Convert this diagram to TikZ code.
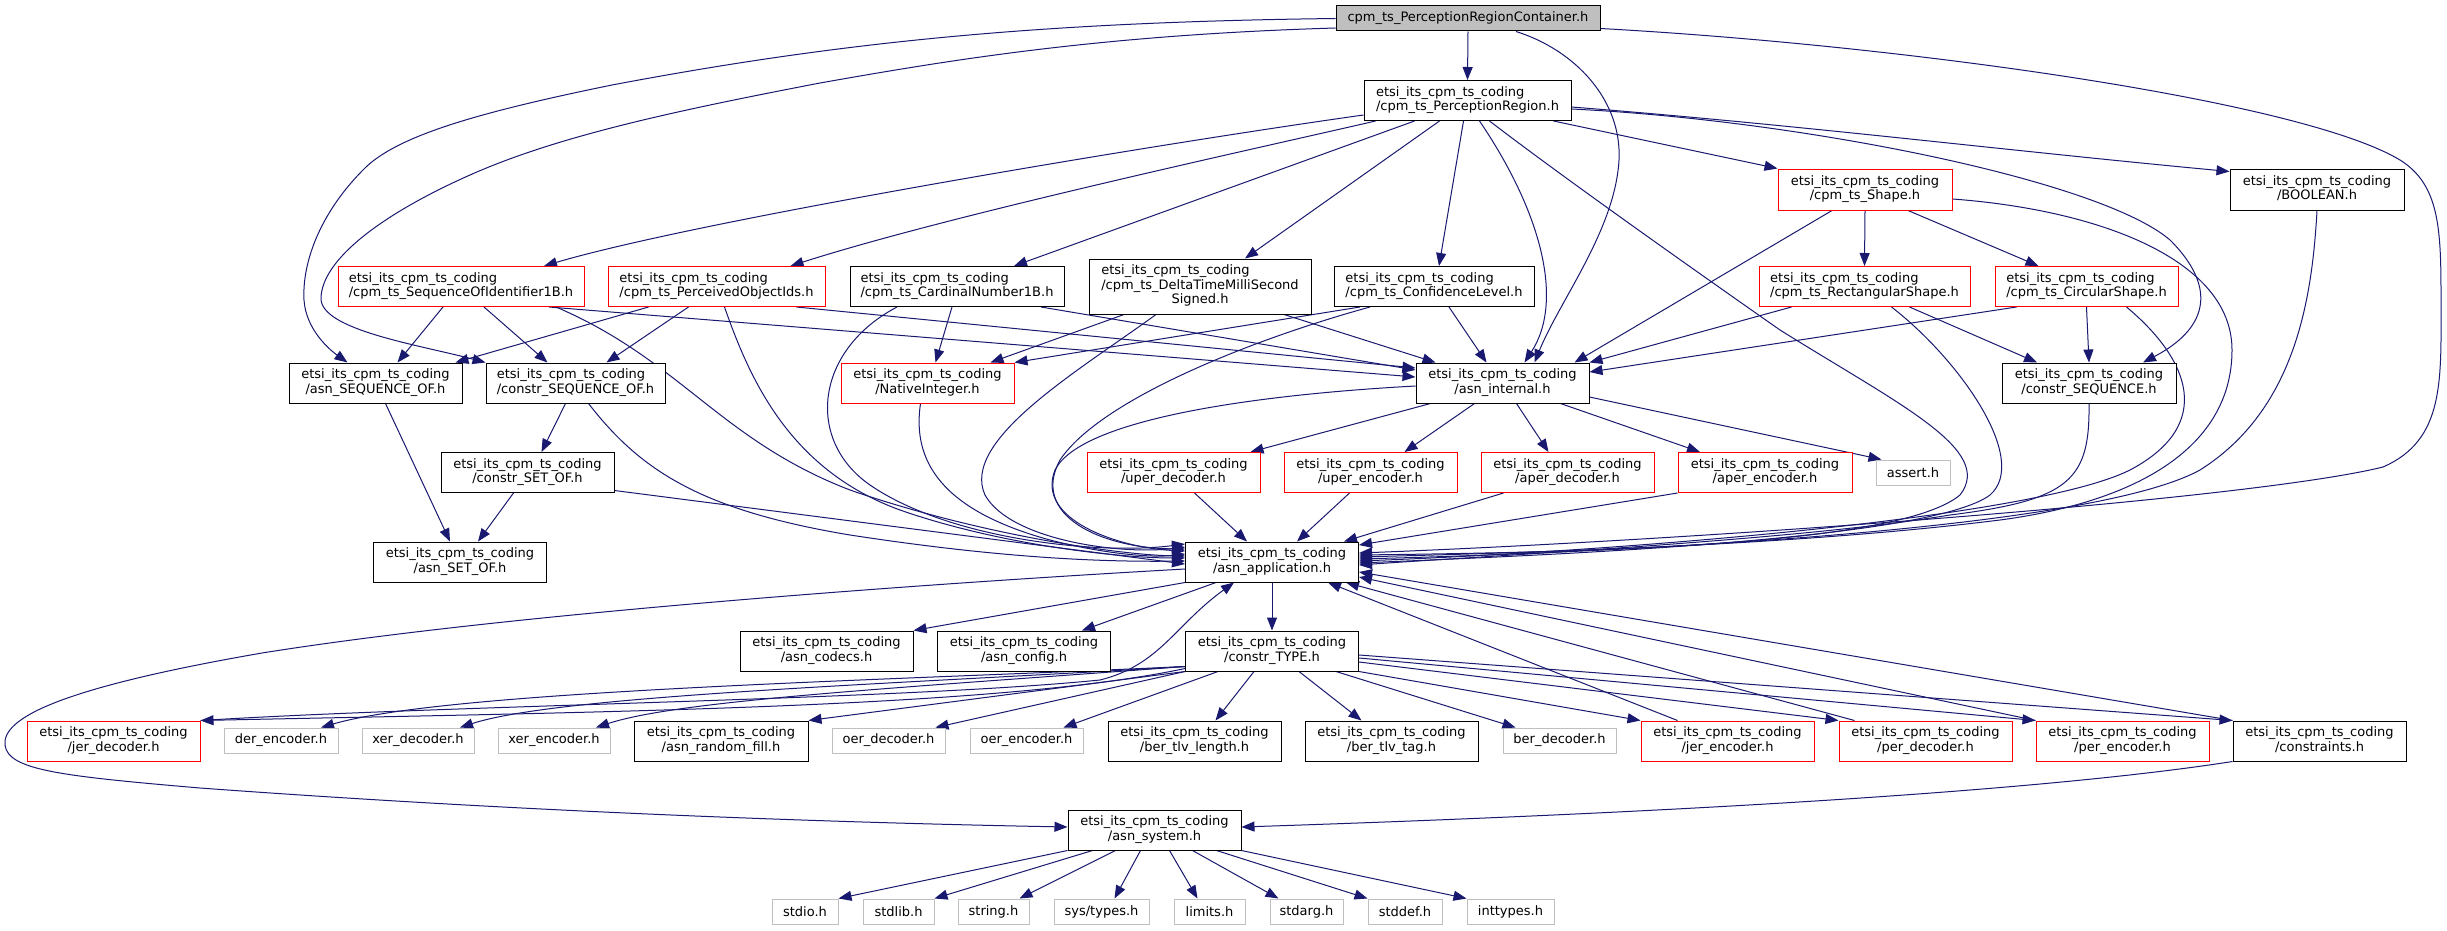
\documentclass[tikz,border=0pt]{standalone}
\usepackage{fontspec}
\setmainfont{DejaVu Sans}
\usetikzlibrary{arrows.meta}
\definecolor{edgeblue}{HTML}{191970}
\definecolor{boxgray}{HTML}{BFBFBF}
\definecolor{topfill}{HTML}{BFBFBF}
\newcommand\etsi{etsi\_its\_cpm\_ts\_coding}
\newcommand\mylbl[1]{\begin{tabular}{@{}l@{}}\etsi\\\multicolumn{1}{@{}c@{}}{#1}\end{tabular}}
\pgfdeclarelayer{bg}
\pgfsetlayers{bg,main}
\begin{document}
\begin{tikzpicture}[x=1pt,y=-1pt,
  nbox/.style={draw, rectangle, line width=1pt, fill=white, inner xsep=6pt, inner ysep=2pt,
    minimum width=173pt, minimum height=40pt, font=\fontsize{13}{14.5}\selectfont},
  redbox/.style={nbox, draw=red},
  blkbox/.style={nbox, draw=black},
  graybox/.style={nbox, draw=boxgray, minimum height=25pt},
  topbox/.style={nbox, draw=black, fill=topfill, minimum height=25pt, minimum width=264pt},
  dep/.style={draw=edgeblue, line width=1pt, -{Triangle[length=13pt,width=10pt]}}]

% nodes
\node[topbox] (top) at (1468,18.5) {cpm\_ts\_PerceptionRegionContainer.h};
\node[blkbox, minimum width=207pt] (PR) at (1467.5,100.5) {\mylbl{/cpm\_ts\_PerceptionRegion.h}};
\node[redbox, minimum width=174pt, minimum height=41pt] (Shape) at (1865,189.5) {\mylbl{/cpm\_ts\_Shape.h}};
\node[blkbox, minimum width=174pt, minimum height=41pt] (BOOLEAN) at (2317,189.5) {\mylbl{/BOOLEAN.h}};
\node[redbox, minimum width=246pt] (SeqId) at (461,286.5) {\mylbl{/cpm\_ts\_SequenceOfIdentifier1B.h}};
\node[redbox, minimum width=217pt] (POI) at (716.5,286.5) {\mylbl{/cpm\_ts\_PerceivedObjectIds.h}};
\node[blkbox, minimum width=214pt] (Card) at (957,286.5) {\mylbl{/cpm\_ts\_CardinalNumber1B.h}};
\node[blkbox, minimum width=222pt, minimum height=55pt] (Delta) at (1200,286.5)
  {\begin{tabular}{@{}l@{}}\etsi\\/cpm\_ts\_DeltaTimeMilliSecond\\\multicolumn{1}{@{}c@{}}{Signed.h}\end{tabular}};
\node[blkbox, minimum width=200pt] (Conf) at (1434,286.5) {\mylbl{/cpm\_ts\_ConfidenceLevel.h}};
\node[redbox, minimum width=211pt] (Rect) at (1864.5,286.5) {\mylbl{/cpm\_ts\_RectangularShape.h}};
\node[redbox, minimum width=183pt] (Circ) at (2086.5,286.5) {\mylbl{/cpm\_ts\_CircularShape.h}};
\node[blkbox] (asnSeqOf) at (375.5,383) {\mylbl{/asn\_SEQUENCE\_OF.h}};
\node[blkbox, minimum width=179pt] (constrSeqOf) at (575.5,383) {\mylbl{/constr\_SEQUENCE\_OF.h}};
\node[redbox] (Native) at (927.5,383) {\mylbl{/NativeInteger.h}};
\node[blkbox] (internal) at (1502.5,383) {\mylbl{/asn\_internal.h}};
\node[blkbox, minimum width=174pt] (constrSeq) at (2089,383) {\mylbl{/constr\_SEQUENCE.h}};
\node[blkbox] (constrSetOf) at (527.5,472.5) {\mylbl{/constr\_SET\_OF.h}};
\node[redbox] (uperDec) at (1173.5,472.5) {\mylbl{/uper\_decoder.h}};
\node[redbox] (uperEnc) at (1370.5,472.5) {\mylbl{/uper\_encoder.h}};
\node[redbox] (aperDec) at (1567.5,472.5) {\mylbl{/aper\_decoder.h}};
\node[redbox, minimum width=174pt] (aperEnc) at (1765,472.5) {\mylbl{/aper\_encoder.h}};
\node[graybox, minimum width=74pt] (assert) at (1913,472.5) {assert.h};
\node[blkbox] (asnSetOf) at (460,562) {\mylbl{/asn\_SET\_OF.h}};
\node[blkbox] (app) at (1272,562) {\mylbl{/asn\_application.h}};
\node[blkbox] (codecs) at (826.5,651) {\mylbl{/asn\_codecs.h}};
\node[blkbox] (config) at (1024,651) {\mylbl{/asn\_config.h}};
\node[blkbox] (ctype) at (1272,651) {\mylbl{/constr\_TYPE.h}};
\node[redbox] (jerDec) at (113.5,741) {\mylbl{/jer\_decoder.h}};
\node[graybox, minimum width=114pt] (derEnc) at (281,740.5) {der\_encoder.h};
\node[graybox, minimum width=112pt] (xerDec) at (418,740.5) {xer\_decoder.h};
\node[graybox, minimum width=112pt] (xerEnc) at (554,740.5) {xer\_encoder.h};
\node[blkbox, minimum width=174pt] (randFill) at (721,741) {\mylbl{/asn\_random\_fill.h}};
\node[graybox, minimum width=113pt] (oerDec) at (888.5,740.5) {oer\_decoder.h};
\node[graybox, minimum width=113pt] (oerEnc) at (1026.5,740.5) {oer\_encoder.h};
\node[blkbox] (tlvLen) at (1194.5,741) {\mylbl{/ber\_tlv\_length.h}};
\node[blkbox] (tlvTag) at (1391.5,741) {\mylbl{/ber\_tlv\_tag.h}};
\node[graybox, minimum width=113pt] (berDec) at (1559.5,740.5) {ber\_decoder.h};
\node[redbox] (jerEnc) at (1727.5,741) {\mylbl{/jer\_encoder.h}};
\node[redbox] (perDec) at (1925.5,741) {\mylbl{/per\_decoder.h}};
\node[redbox] (perEnc) at (2122.5,741) {\mylbl{/per\_encoder.h}};
\node[blkbox] (constraints) at (2319.5,741) {\mylbl{/constraints.h}};
\node[blkbox] (system) at (1154.5,830) {\mylbl{/asn\_system.h}};
\node[graybox, minimum width=66pt] (stdio) at (805,911.5) {stdio.h};
\node[graybox, minimum width=71pt] (stdlib) at (898.5,911.5) {stdlib.h};
\node[graybox, minimum width=71pt] (string) at (993.5,911.5) {string.h};
\node[graybox, minimum width=95pt] (systypes) at (1101.5,911.5) {sys/types.h};
\node[graybox, minimum width=71pt] (limits) at (1209.5,911.5) {limits.h};
\node[graybox, minimum width=73pt] (stdarg) at (1306.5,911.5) {stdarg.h};
\node[graybox, minimum width=74pt] (stddef) at (1405,911.5) {stddef.h};
\node[graybox, minimum width=87pt] (inttypes) at (1510.5,911.5) {inttypes.h};

\begin{pgfonlayer}{bg}
\fill[white] (0,0) rectangle (2447,931);
\useasboundingbox (0,0) rectangle (2447,931);
% top
\draw[dep] (top.south) -- (PR.north);
\draw[dep] (top.west) .. controls (1050,22) and (850,40) .. (612,85) .. controls (480,112) and (400,135) .. (366,167) .. controls (322,210) and (302,260) .. (304,300) .. controls (306,330) and (330,350) .. ([xshift=-28pt]asnSeqOf.north);
\draw[dep] ([yshift=-9.5pt]top.west) .. controls (1100,35) and (950,60) .. (820,83) .. controls (680,110) and (560,135) .. (470,175) .. controls (380,215) and (322,260) .. (321,298) .. controls (320,330) and (420,345) .. (constrSeqOf.north west);
\draw[dep] ([xshift=48pt]top.south) .. controls (1575,50) and (1622,100) .. (1619,160) .. controls (1615,230) and (1560,300) .. ([xshift=32pt]internal.north);
\draw[dep] ([yshift=-10pt]top.east) .. controls (1900,45) and (2300,100) .. (2400,160) .. controls (2440,185) and (2441,230) .. (2441,300) .. controls (2441,380) and (2445,440) .. (2383,467) .. controls (2250,500) and (1700,540) .. ([yshift=9pt]app.east);
% PR
\draw[dep] ([yshift=-14.5pt]PR.west) .. controls (1150,145) and (700,220) .. ([xshift=83pt]SeqId.north);
\draw[dep] ([xshift=-92pt]PR.south) .. controls (1250,150) and (950,215) .. ([xshift=74pt]POI.north);
\draw[dep] ([xshift=-53pt]PR.south) -- ([xshift=57pt]Card.north);
\draw[dep] ([xshift=-28pt]PR.south) -- ([xshift=45pt]Delta.north);
\draw[dep] ([xshift=-4pt]PR.south) -- ([xshift=5pt]Conf.north);
\draw[dep] ([xshift=12pt]PR.south) .. controls (1540,210) and (1565,300) .. ([xshift=22pt]internal.north);
\draw[dep] ([xshift=22pt]PR.south) .. controls (1560,175) and (1680,260) .. (1780,330) .. controls (1900,405) and (1995,450) .. (1960,495) .. controls (1900,545) and (1600,552) .. ([yshift=7pt]app.east);
\draw[dep] ([xshift=-18pt]PR.south east) -- (Shape.north west);
\draw[dep] ([yshift=-6.5pt]PR.east) .. controls (1800,125) and (2000,150) .. ([yshift=-3pt]BOOLEAN.north west);
\draw[dep] ([yshift=-8.5pt]PR.east) .. controls (1800,120) and (2100,180) .. (2170,240) .. controls (2220,290) and (2205,330) .. ([xshift=54pt]constrSeq.north);
% Shape
\draw[dep] (Shape.south) -- (Rect.north);
\draw[dep] ([xshift=43pt]Shape.south) -- ([xshift=-48pt]Circ.north);
\draw[dep] ([xshift=-33pt]Shape.south) -- ([xshift=72pt]internal.north);
\draw[dep] ([yshift=-9.5pt]Shape.east) .. controls (2100,210) and (2232,260) .. (2232,350) .. controls (2232,440) and (2150,500) .. (2000,520) .. controls (1800,545) and (1550,552) .. ([yshift=5pt]app.east);
% BOOLEAN
\draw[dep] (BOOLEAN.south) .. controls (2312,300) and (2295,410) .. (2200,470) .. controls (2100,525) and (1700,550) .. ([yshift=3pt]app.east);
% Circ
\draw[dep] ([xshift=-70pt]Circ.south) -- ([yshift=11pt]internal.east);
\draw[dep] (Circ.south) -- (constrSeq.north);
\draw[dep] ([xshift=40pt]Circ.south) .. controls (2190,360) and (2215,425) .. (2130,470) .. controls (2030,520) and (1600,552) .. ([yshift=1pt]app.east);
% Rect
\draw[dep] ([xshift=-73pt]Rect.south) -- (internal.north east);
\draw[dep] ([xshift=45pt]Rect.south) -- ([xshift=-52pt]constrSeq.north);
\draw[dep] ([xshift=27pt]Rect.south) .. controls (1960,360) and (2030,460) .. (1990,495) .. controls (1930,540) and (1550,555) .. ([yshift=-1pt]app.east);
% constrSeq
\draw[dep] (constrSeq.south) .. controls (2090,480) and (2070,500) .. (1950,515) .. controls (1800,540) and (1500,555) .. ([yshift=-3pt]app.east);
% SeqId
\draw[dep] ([xshift=-18pt]SeqId.south) -- ([xshift=22pt]asnSeqOf.north);
\draw[dep] ([xshift=23pt]SeqId.south) -- ([xshift=-28pt]constrSeqOf.north);
\draw[dep] ([xshift=88pt]SeqId.south) -- ([yshift=6pt]internal.west);
\draw[dep] ([xshift=95pt]SeqId.south) .. controls (680,360) and (720,440) .. (850,490) .. controls (980,535) and (1120,555) .. ([yshift=6pt]app.west);
% POI
\draw[dep] ([xshift=-68pt]POI.south) -- ([xshift=80pt]asnSeqOf.north);
\draw[dep] ([xshift=-28pt]POI.south) -- ([xshift=31pt]constrSeqOf.north);
\draw[dep] ([xshift=80pt]POI.south) -- ([yshift=15pt]internal.west);
\draw[dep] ([xshift=8pt]POI.south) .. controls (750,380) and (790,470) .. (900,510) .. controls (1000,545) and (1120,558) .. ([yshift=4pt]app.west);
% Card
\draw[dep] ([xshift=-5pt]Card.south) -- ([xshift=8pt]Native.north);
\draw[dep] ([xshift=84pt]Card.south) -- ([yshift=13pt]internal.west);
\draw[dep] ([xshift=-60pt]Card.south) .. controls (815,350) and (805,440) .. (870,485) .. controls (950,540) and (1100,555) .. ([yshift=18pt]app.west);
% Delta
\draw[dep] ([xshift=-76pt]Delta.south) -- ([xshift=63pt]Native.north);
\draw[dep] ([xshift=84pt]Delta.south) -- ([xshift=-67pt]internal.north);
\draw[dep] ([xshift=-44pt]Delta.south) .. controls (1080,370) and (960,440) .. (985,495) .. controls (1010,540) and (1120,555) .. ([yshift=15pt]app.west);
% Conf
\draw[dep] ([xshift=-74pt]Conf.south) -- (Native.north east);
\draw[dep] ([xshift=15pt]Conf.south) -- ([xshift=-16pt]internal.north);
\draw[dep] ([xshift=-64pt]Conf.south) .. controls (1250,340) and (1100,400) .. (1060,460) .. controls (1030,515) and (1100,548) .. ([yshift=13pt]app.west);
% Native
\draw[dep] ([xshift=-7pt]Native.south) .. controls (912,460) and (940,510) .. (1050,540) .. controls (1100,553) and (1150,558) .. ([yshift=8pt]app.west);
% internal
\draw[dep] ([yshift=-3pt]internal.west) .. controls (1250,395) and (1080,420) .. (1055,470) .. controls (1035,520) and (1120,548) .. ([yshift=11pt]app.west);
\draw[dep] ([xshift=-72pt]internal.south) -- ([xshift=77pt]uperDec.north);
\draw[dep] ([xshift=-28pt]internal.south) -- ([xshift=34pt]uperEnc.north);
\draw[dep] ([xshift=14pt]internal.south) -- ([xshift=-19pt]aperDec.north);
\draw[dep] ([xshift=58pt]internal.south) -- ([xshift=-65pt]aperEnc.north);
\draw[dep] ([yshift=-14pt]internal.east) -- ([xshift=6pt]assert.north west);
% SEQUENCE_OF / SET_OF
\draw[dep] ([xshift=10pt]asnSeqOf.south) -- ([xshift=-10pt]asnSetOf.north);
\draw[dep] ([xshift=-10pt]constrSeqOf.south) -- ([xshift=14pt]constrSetOf.north);
\draw[dep] ([xshift=13pt]constrSeqOf.south) .. controls (640,470) and (700,510) .. (850,535) .. controls (1000,558) and (1100,562) .. ([yshift=1pt]app.west);
\draw[dep] ([xshift=-14pt]constrSetOf.south) -- ([xshift=18pt]asnSetOf.north);
\draw[dep] ([yshift=-18pt]constrSetOf.east) -- ([yshift=-2pt]app.west);
% per coders -> app
\draw[dep] ([xshift=21pt]uperDec.south) -- ([xshift=-25pt]app.north);
\draw[dep] ([xshift=-21pt]uperEnc.south) -- ([xshift=25pt]app.north);
\draw[dep] ([xshift=-64pt]aperDec.south) -- ([xshift=72pt]app.north);
\draw[dep] (aperEnc.south west) -- ([yshift=17pt]app.east);
% app
\draw[dep] (app.south west) -- (codecs.north east);
\draw[dep] ([xshift=-56pt]app.south) -- ([xshift=58pt]config.north);
\draw[dep] (app.south) -- (ctype.north);
\draw[dep] ([yshift=-7pt]app.west) .. controls (900,585) and (500,615) .. (262,653) .. controls (60,688) and (2,718) .. (5,745) .. controls (8,770) and (60,776) .. (200,788) .. controls (500,810) and (800,822) .. ([yshift=3pt]system.west);
% constr_TYPE
\draw[dep] ([yshift=3pt]ctype.south west) .. controls (1000,708) and (600,712) .. (jerDec.north east);
\draw[dep] ([yshift=5pt]ctype.south west) .. controls (900,680) and (450,690) .. ([xshift=40pt]derEnc.north);
\draw[dep] ([yshift=5pt]ctype.south west) .. controls (900,684) and (560,695) .. ([xshift=42pt]xerDec.north);
\draw[dep] ([yshift=5pt]ctype.south west) .. controls (900,688) and (680,700) .. ([xshift=42pt]xerEnc.north);
\draw[dep] (ctype.south west) -- (randFill.north east);
\draw[dep] (ctype.south west) -- ([xshift=47pt]oerDec.north);
\draw[dep] ([xshift=-54pt]ctype.south) -- ([xshift=37pt]oerEnc.north);
\draw[dep] ([xshift=-18pt]ctype.south) -- ([xshift=21pt]tlvLen.north);
\draw[dep] ([xshift=27pt]ctype.south) -- ([xshift=-30pt]tlvTag.north);
\draw[dep] ([xshift=64pt]ctype.south) -- ([xshift=-44pt]berDec.north);
\draw[dep] (ctype.south east) -- (jerEnc.north west);
\draw[dep] ([yshift=-11pt]ctype.east) -- (perDec.north west);
\draw[dep] ([yshift=-7pt]ctype.east) -- (perEnc.north west);
\draw[dep] ([yshift=-4pt]ctype.east) -- (constraints.north west);
% back to app
\draw[dep] (jerDec.north east) .. controls (450,705) and (900,700) .. (1100,680) .. controls (1160,665) and (1175,625) .. ([xshift=-38pt]app.south);
\draw[dep] ([xshift=-50pt]jerEnc.north) -- ([xshift=56pt]app.south);
\draw[dep] ([xshift=-71pt]perDec.north) -- ([xshift=74pt]app.south);
\draw[dep] (perEnc.north west) -- ([yshift=-15pt]app.east);
\draw[dep] (constraints.north west) -- ([yshift=-10pt]app.east);
% system
\draw[dep] (constraints.south west) .. controls (2050,790) and (1700,812) .. ([yshift=3pt]system.east);
\draw[dep] (system.south west) -- (stdio.north east);
\draw[dep] ([xshift=-62pt]system.south) -- (stdlib.north east);
\draw[dep] ([xshift=-39pt]system.south) -- ([xshift=26pt]string.north);
\draw[dep] ([xshift=-14pt]system.south) -- ([xshift=13pt]systypes.north);
\draw[dep] ([xshift=15pt]system.south) -- ([xshift=-12pt]limits.north);
\draw[dep] ([xshift=38pt]system.south) -- ([xshift=-28pt]stdarg.north);
\draw[dep] ([xshift=62pt]system.south) -- (stddef.north west);
\draw[dep] (system.south east) -- (inttypes.north west);
\end{pgfonlayer}
\end{tikzpicture}
\end{document}
